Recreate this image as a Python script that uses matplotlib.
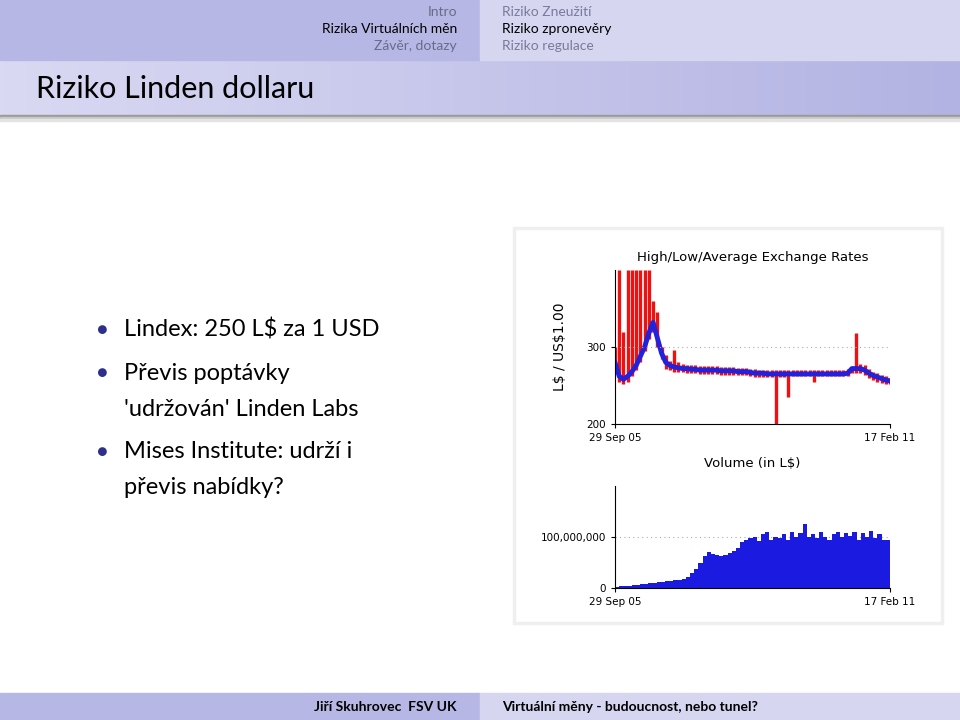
import matplotlib
matplotlib.use("Agg")
import matplotlib.pyplot as plt
from matplotlib.patches import Rectangle
import numpy as np

plt.rcParams['font.family'] = ['Lato', 'DejaVu Sans']

# monthly rate data, 29 Sep 05 .. 17 Feb 11  (L$ per US$1)
rate_avg = [280, 262, 258, 262, 268, 276, 288, 300, 318, 332,
            312, 292, 280, 276, 274, 273, 272, 272, 271, 271,
            270, 270, 270, 270, 270, 269, 269, 269, 269, 268,
            268, 268, 267, 266, 266, 266, 265, 265, 265, 265,
            265, 265, 265, 265, 265, 265, 265, 265, 265, 265,
            265, 265, 265, 265, 265, 266, 272, 272, 272, 270,
            266, 263, 261, 259, 257, 256]
rate_high = [300, 400, 320, 400, 400, 400, 400, 400, 400, 360,
             345, 300, 290, 282, 296, 280, 278, 277, 276, 276,
             275, 275, 275, 275, 275, 274, 274, 274, 274, 273,
             273, 273, 272, 271, 270, 270, 270, 270, 270, 270,
             270, 270, 270, 270, 270, 270, 270, 270, 270, 270,
             270, 270, 270, 270, 270, 272, 274, 318, 278, 276,
             272, 268, 266, 264, 262, 260]
rate_low = [270, 255, 252, 255, 262, 270, 280, 295, 310, 320,
            300, 285, 272, 270, 268, 267, 267, 266, 266, 266,
            265, 265, 265, 265, 265, 264, 264, 264, 264, 263,
            263, 263, 262, 261, 261, 261, 261, 261, 200, 261,
            261, 235, 262, 262, 262, 262, 262, 255, 262, 262,
            262, 262, 262, 262, 262, 262, 266, 266, 266, 264,
            260, 257, 255, 253, 252, 252]
# volume in millions L$
volume = [2, 3, 3, 4, 5, 6, 7, 8, 9, 10,
          11, 12, 13, 14, 15, 16, 18, 22, 30, 38,
          50, 62, 70, 66, 64, 62, 65, 68, 72, 78,
          90, 95, 98, 100, 92, 105, 110, 95, 100, 98,
          105, 95, 110, 100, 108, 125, 100, 105, 98, 110,
          100, 95, 105, 110, 100, 108, 102, 110, 95, 108,
          100, 112, 98, 105, 95, 95]
date_labels = ["29 Sep 05", "17 Feb 11"]

bullets = [["Lindex: 250 L$ za 1 USD"],
           ["Převis poptávky", "'udržován' Linden Labs"],
           ["Mises Institute: udrží i", "převis nabídky?"]]

W, H = 960, 720
fig = plt.figure(figsize=(9.6, 7.2), dpi=100)


def fx(x):
    return x / W


def fy(y):
    return 1 - y / H


def box(x0, y0, x1, y1, color, **kw):
    fig.patches.append(Rectangle((fx(x0), fy(y1)), fx(x1 - x0), (y1 - y0) / H,
                                 transform=fig.transFigure, color=color, **kw))


# header
box(0, 0, 480, 60, '#b7b7e5')
box(480, 0, 960, 60, '#d6d6f1')
grad = np.linspace(0, 1, 256).reshape(1, -1)
gax = fig.add_axes([0, fy(115), 1, 55 / H])
gax.imshow(grad, aspect='auto', cmap=matplotlib.colors.LinearSegmentedColormap.from_list(
    'g', ['#d9d9f3', '#b3b3e3']))
gax.axis('off')
for i, c in enumerate(['#9a9a9a', '#c8c8c8', '#e4e4e4']):
    box(0, 115 + i * 2, 960, 117 + i * 2, c)

fig.text(fx(457), fy(12), "Intro", ha='right', va='center', fontsize=10, color='#6a6a8a')
fig.text(fx(457), fy(29), "Rizika Virtuálních měn", ha='right', va='center', fontsize=10, color='black')
fig.text(fx(457), fy(46), "Závěr, dotazy", ha='right', va='center', fontsize=10, color='#6a6a8a')
fig.text(fx(502), fy(12), "Riziko Zneužití", ha='left', va='center', fontsize=10, color='#7a7a9a')
fig.text(fx(502), fy(29), "Riziko zpronevěry", ha='left', va='center', fontsize=10, color='black')
fig.text(fx(502), fy(46), "Riziko regulace", ha='left', va='center', fontsize=10, color='#7a7a9a')
fig.text(fx(36), fy(89), "Riziko Linden dollaru", ha='left', va='center', fontsize=22)

# footer
box(0, 693, 480, 720, '#b7b7e5')
box(480, 693, 960, 720, '#d6d6f1')
fig.text(fx(457), fy(707), "Jiří Skuhrovec  FSV UK", ha='right', va='center', fontsize=10, fontweight='bold')
fig.text(fx(502), fy(707), "Virtuální měny - budoucnost, nebo tunel?", ha='left', va='center',
         fontsize=10, fontweight='bold')

# bullets
y = 330
for item in bullets:
    fig.text(fx(102), fy(y), "●", ha='center', va='center', fontsize=13, color='#2e2e8c')
    for line in item:
        fig.text(fx(124), fy(y), line, ha='left', va='center', fontsize=17)
        y += 36
    y += 7

# chart panel
box(514, 228, 942, 623, 'white', fill=False, ec='#efefef', lw=2.5)

x = np.arange(len(rate_avg))
ax1 = fig.add_axes([fx(615), fy(424), fx(275), 154 / H])
ax1.vlines(x, rate_low, rate_high, color='#ee1111', lw=2.4)
ax1.plot(x, rate_avg, color='#2222dd', lw=3.5)
ax1.axhline(300, color='#aaaaaa', ls=(0, (1, 3)), lw=0.8)
ax1.set_xlim(0, len(rate_avg) - 1)
ax1.set_ylim(200, 400)
ax1.set_yticks([200, 300])
ax1.set_xticks([0, len(rate_avg) - 1])
ax1.set_xticklabels(date_labels)
ax1.set_title("High/Low/Average Exchange Rates", fontsize=9.5, family='DejaVu Sans', pad=4, y=1.02)
ax1.set_ylabel(r"L\$ / US\$1.00", fontsize=10, family='DejaVu Sans', labelpad=14)

xv = np.arange(len(volume) + 1)
ax2 = fig.add_axes([fx(615), fy(588), fx(275), 102 / H])
ax2.stairs(volume, xv, fill=True, color='#1a1ae0')
ax2.axhline(100, color='#aaaaaa', ls=(0, (1, 3)), lw=0.8, zorder=0)
ax2.set_xlim(0, len(volume))
ax2.set_ylim(0, 200)
ax2.set_yticks([0, 100])
ax2.set_yticklabels(["0", "100,000,000"])
ax2.set_xticks([0, len(volume)])
ax2.set_xticklabels(date_labels)
ax2.set_title("Volume (in L$)", fontsize=9.5, family='DejaVu Sans', pad=14)

for ax in (ax1, ax2):
    for s in ('top', 'right'):
        ax.spines[s].set_visible(False)
    ax.tick_params(labelsize=7.5, length=3)
    for lab in ax.get_xticklabels() + ax.get_yticklabels():
        lab.set_family('DejaVu Sans')

fig.savefig("out.png", dpi=100)
